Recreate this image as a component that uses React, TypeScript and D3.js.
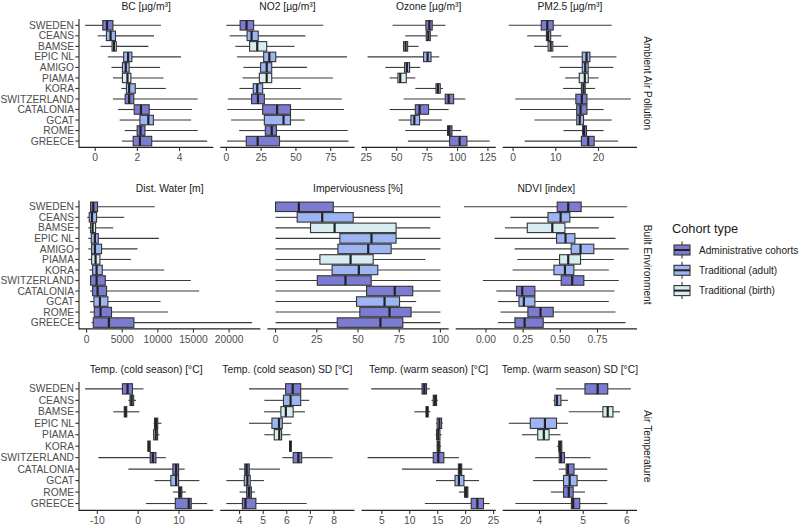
import React from "react";
import * as d3 from "d3";

const cohortsA = ["SWEDEN","CEANS","BAMSE","EPIC NL","AMIGO","PIAMA","KORA","SWITZERLAND","CATALONIA","GCAT","ROME","GREECE"];
const cohortsB = ["SWEDEN","CEANS","BAMSE","EPIC NL","PIAMA","KORA","SWITZERLAND","CATALONIA","GCAT","ROME","GREECE"];
const adminCohorts = ["SWEDEN","SWITZERLAND","CATALONIA","ROME","GREECE"];
const adultCohorts = ["CEANS","EPIC NL","AMIGO","KORA","GCAT"];
const birthCohorts = ["BAMSE","PIAMA"];
const typeLabels = ["Administrative cohorts","Traditional (adult)","Traditional (birth)"];
const typeColors = ["#7b7bd2","#9db5f2","#d7edf1"];
const rowLabels = ["Ambient Air Pollution","Built Environment","Air Temperature"];

// [whisker low, Q1, median, Q3, whisker high]
const bc = [[-0.48,0.36,0.56,0.84,3.12],[0.12,0.53,0.73,0.96,2.79],[0.25,0.80,0.89,1.0,2.52],[0.60,1.35,1.56,1.74,4.07],[0.77,1.29,1.45,1.61,3.08],[0.84,1.29,1.53,1.69,3.24],[1.24,1.48,1.61,1.90,3.35],[0.84,1.42,1.61,1.83,4.86],[1.08,1.85,2.17,2.56,4.59],[1.16,2.12,2.52,2.76,4.55],[1.40,1.99,2.15,2.36,4.86],[1.27,1.80,2.12,2.68,5.31]];
const no2 = [[0,9.9,14.5,19.6,69.6],[2.4,14.9,18.1,22.9,56.8],[6.5,16.7,22.2,29,49],[7.7,26.8,30.9,35.5,86.7],[12.3,24.6,29,32.6,58],[11.6,23.7,29,32.6,76.6],[9.4,19.3,22.2,26.1,53.6],[1.2,18.1,22.7,27.3,82.9],[0.7,26.1,36.5,46.1,84.5],[3.4,27.3,41.1,46.1,56.3],[9.2,28,32.6,36,87.2],[0.5,14.3,22.5,38.2,87.7]];
const ozone = [[46.6,74,76.8,79.2,90],[57,74.3,76,77.6,83.6],[55.1,55.7,57.3,59,68],[26.1,72.1,75.4,78.2,85],[40.6,56.5,58.4,60.6,69.4],[44.2,51,52.9,57.9,65.3],[65.3,82.3,83.9,85.8,88],[55.7,89.9,92.7,96.8,106.4],[44.2,65.3,68.8,76.2,92.7],[51.6,61.7,64.5,68.8,87.2],[57,91.8,93.2,95.4,103.1],[59.2,93.5,101.7,107.7,126.4]];
const pm25 = [[-1.0,6.6,8.0,9.4,23.1],[3.3,7.8,8.2,8.8,11.3],[4.9,8.2,8.8,9.3,12.9],[8.9,16.2,17.2,18.0,24.2],[10.9,16.2,16.9,17.6,23.5],[12.2,15.5,16.8,17.6,20.0],[11.7,16.0,16.5,16.9,19.2],[0.5,14.7,16.1,17.3,27.6],[1.6,14.9,15.8,17.3,21.2],[5.0,14.9,15.6,16.5,23.1],[11.8,16.3,16.6,17.2,21.2],[2.7,16.0,17.6,19.0,24.6]];
const distWater = [[470,560,935,1540,9580],[90,370,750,1400,5280],[230,560,840,1260,3740],[230,650,1170,1640,10150],[230,700,1170,2100,7150],[230,700,1260,1870,6220],[370,840,1400,2200,10900],[470,560,1400,2620,14630],[470,840,1540,2800,15800],[470,1030,1870,2990,10380],[470,1080,1960,3500,11450],[700,935,3130,6640,23230]];
const imperv = [[0,0,14.1,35,100],[0,13.1,28.3,47.1,100],[0,21.2,35.8,73.1,93.9],[0,39,58.2,73.1,100],[0,37.8,56.2,70.1,100],[0,26.9,45.5,59.2,90.9],[0,34.3,50.5,62,100],[0,25.3,42.4,58,100],[0,55.2,72.3,83.2,100],[0,49.1,66.1,75.2,85.3],[0,51.1,69.1,82.2,100],[0,37.4,63.6,77.2,100]];
const ndvi = [[-0.148,0.479,0.553,0.64,0.949],[0.164,0.417,0.502,0.564,0.86],[0.128,0.278,0.446,0.531,0.759],[0.058,0.475,0.535,0.598,0.871],[0.193,0.573,0.636,0.725,0.96],[0.211,0.495,0.553,0.636,0.86],[0.179,0.457,0.531,0.591,0.826],[-0.02,0.506,0.58,0.658,0.893],[0.07,0.206,0.244,0.329,0.864],[0.081,0.222,0.255,0.329,0.826],[0.099,0.282,0.367,0.452,0.871],[0.081,0.195,0.26,0.385,0.938]];
const tempCold = [[-13.0,-3.85,-2.6,-1.4,1.3],[-2.4,-2.0,-1.6,-1.1,-0.5],[-6.1,-3.4,-3.1,-2.8,0.3],[3.8,4.0,4.4,4.8,5.7],[3.6,3.8,4.3,4.75,5.2],[2.3,2.4,2.6,2.95,3.0],[-9.75,2.95,3.6,4.35,6.8],[-2.4,8.5,9.3,9.9,11.4],[4.0,8.0,9.3,9.9,15],[8.5,9.9,10.3,10.7,11.7],[1.9,9.1,12.4,13,16.9]];
const tempColdSd = [[4.4,5.95,6.25,6.59,8.61],[5.05,5.86,6.16,6.59,6.95],[5.04,5.75,5.96,6.27,6.77],[4.4,5.37,5.67,5.81,6.2],[5.05,5.47,5.68,5.78,6.16],[6.1,6.12,6.15,6.19,6.2],[5.81,6.27,6.49,6.63,7.94],[3.98,4.22,4.3,4.41,5.71],[3.44,4.2,4.33,4.45,5.03],[4.0,4.3,4.4,4.5,4.65],[3.44,4.12,4.25,4.69,6.84]];
const tempWarm = [[3.1,12.2,12.6,13.0,13.6],[13.9,14.2,14.5,14.8,15.0],[10.8,12.9,13.1,13.3,13.7],[14.7,14.9,15.3,15.7,15.9],[14.6,14.8,15.1,15.4,15.7],[14.8,14.9,15.15,15.4,15.6],[2.45,14.2,15.1,16.1,18.8],[8.6,18.7,19.0,19.3,21.2],[14.7,18.1,18.8,19.7,22.4],[18.8,19.8,20.1,20.4,20.4],[12.7,21.0,22.1,23.2,24.3]];
const tempWarmSd = [[4.375,5.04,5.33,5.56,6.09],[4.32,4.35,4.4,4.49,4.65],[4.67,5.45,5.56,5.68,5.84],[3.3,3.79,4.125,4.39,4.65],[3.6,3.96,4.1,4.22,4.48],[4.4,4.44,4.47,4.51,4.52],[3.9,4.45,4.49,4.57,5.17],[4.44,4.61,4.65,4.79,5.55],[3.85,4.55,4.69,4.86,5.55],[4.26,4.55,4.67,4.77,5.04],[3.45,4.73,4.77,4.92,5.55]];

const ticksBc = [0, 2, 4];
const ticksNo2 = [0, 25, 50, 75];
const ticksOzone = [25, 50, 75, 100, 125];
const ticksPm = [0, 10, 20];
const ticksWater = [0, 5000, 10000, 15000, 20000];
const ticksImperv = [0, 25, 50, 75, 100];
const ticksNdvi = [0, 0.25, 0.5, 0.75];
const ticksCold = [-10, 0, 10];
const ticksColdSd = [4, 5, 6, 7, 8];
const ticksWarm = [5, 10, 15, 20, 25];
const ticksWarmSd = [4, 5, 6];

const panelRows = [
  { cohorts: cohortsA, panels: [
    { title: "BC [µg/m³]", data: bc, ticks: ticksBc, fmt: "d" },
    { title: "NO2 [µg/m³]", data: no2, ticks: ticksNo2, fmt: "d" },
    { title: "Ozone [µg/m³]", data: ozone, ticks: ticksOzone, fmt: "d" },
    { title: "PM2.5 [µg/m³]", data: pm25, ticks: ticksPm, fmt: "d" },
  ]},
  { cohorts: cohortsA, panels: [
    { title: "Dist. Water [m]", data: distWater, ticks: ticksWater, fmt: "d" },
    { title: "Imperviousness [%]", data: imperv, ticks: ticksImperv, fmt: "d" },
    { title: "NDVI [index]", data: ndvi, ticks: ticksNdvi, fmt: ".2f" },
  ]},
  { cohorts: cohortsB, panels: [
    { title: "Temp. (cold season) [°C]", data: tempCold, ticks: ticksCold, fmt: "d" },
    { title: "Temp. (cold season) SD [°C]", data: tempColdSd, ticks: ticksColdSd, fmt: "d" },
    { title: "Temp. (warm season) [°C]", data: tempWarm, ticks: ticksWarm, fmt: "d" },
    { title: "Temp. (warm season) SD [°C]", data: tempWarmSd, ticks: ticksWarmSd, fmt: "d" },
  ]},
];

const FONT = "'Liberation Sans', Arial, Helvetica, sans-serif";
const PLOT_L = 79, PLOT_R = 637, GAP = 7;
const ROW_TOP0 = 19, PANEL_H = 128.4, ROW_PITCH = 181.5;
const AXIS_TEXT = "#4d4d4d";
const LINE = "#333333";

function typeIndex(name: string) {
  if (adminCohorts.includes(name)) return 0;
  if (adultCohorts.includes(name)) return 1;
  if (birthCohorts.includes(name)) return 2;
  return 2;
}

export default function App() {
  const elems: any[] = [];
  panelRows.forEach((row, ri) => {
    const top = ROW_TOP0 + ri * ROW_PITCH;
    const bottom = top + PANEL_H;
    const n = row.panels.length;
    const pw = (PLOT_R - PLOT_L - GAP * (n - 1)) / n;
    const y = d3.scalePoint<string>().domain(row.cohorts).range([top, bottom]).padding(0.6);
    const step = y.step();
    const bh = step * 0.9;

    elems.push(<line key={`ya${ri}`} x1={PLOT_L} x2={PLOT_L} y1={top} y2={bottom + 0.5} stroke="#222" strokeWidth={1.1} />);
    row.cohorts.forEach((c) => {
      const yy = y(c)!;
      elems.push(<line key={`yt${ri}${c}`} x1={PLOT_L - 3.7} x2={PLOT_L} y1={yy} y2={yy} stroke={LINE} strokeWidth={1.1} />);
      elems.push(<text key={`yl${ri}${c}`} x={PLOT_L - 5} y={yy} dy="0.35em" textAnchor="end" fontSize={10.25} fill={AXIS_TEXT} fontFamily={FONT}>{c}</text>);
    });

    elems.push(<text key={`rs${ri}`} transform={`translate(${648},${(top + bottom) / 2}) rotate(90)`} textAnchor="middle" dy="0.35em" fontSize={10.2} fill="#1a1a1a" fontFamily={FONT}>{rowLabels[ri]}</text>);

    row.panels.forEach((p, pi) => {
      const left = PLOT_L + pi * (pw + GAP);
      const right = left + pw;
      const lo = d3.min(p.data, (d) => d[0])!;
      const hi = d3.max(p.data, (d) => d[4])!;
      const ex = (hi - lo) * 0.05;
      const x = d3.scaleLinear().domain([lo - ex, hi + ex]).range([left, right]);
      const f = p.fmt === "d" ? (v: number) => String(v) : d3.format(p.fmt);

      elems.push(<text key={`st${ri}${pi}`} x={(left + right) / 2} y={top - 9} textAnchor="middle" fontSize={10.3} fill="#1a1a1a" fontFamily={FONT}>{p.title}</text>);

      row.cohorts.forEach((c, ci) => {
        const d = p.data[ci];
        const yy = y(c)!;
        const col = typeColors[typeIndex(c)];
        elems.push(
          <g key={`b${ri}${pi}${ci}`}>
            <line x1={x(d[0])} x2={x(d[1])} y1={yy} y2={yy} stroke="#3a3a3a" strokeWidth={1.1} />
            <line x1={x(d[3])} x2={x(d[4])} y1={yy} y2={yy} stroke="#3a3a3a" strokeWidth={1.1} />
            <rect x={x(d[1])} y={yy - bh / 2} width={Math.max(0, x(d[3]) - x(d[1]))} height={bh} fill={col} stroke={LINE} strokeWidth={1.1} />
            <line x1={x(d[2])} x2={x(d[2])} y1={yy - bh / 2} y2={yy + bh / 2} stroke="#222" strokeWidth={2.2} />
          </g>
        );
      });

      elems.push(<line key={`xa${ri}${pi}`} x1={left} x2={right} y1={bottom} y2={bottom} stroke="#222" strokeWidth={1.1} />);
      p.ticks.forEach((t) => {
        const xx = x(t);
        elems.push(<line key={`xt${ri}${pi}${t}`} x1={xx} x2={xx} y1={bottom} y2={bottom + 3.7} stroke={LINE} strokeWidth={1.1} />);
        elems.push(<text key={`xl${ri}${pi}${t}`} x={xx} y={bottom + 14} textAnchor="middle" fontSize={10.3} fill={AXIS_TEXT} fontFamily={FONT}>{f(t)}</text>);
      });
    });
  });

  const lx = 674, kw = 16, ly0 = 250, lstep = 20.3;
  elems.push(<text key="lt" x={672} y={232.5} fontSize={12.8} fill="#1a1a1a" fontFamily={FONT}>Cohort type</text>);
  typeLabels.forEach((lab, i) => {
    const cy = ly0 + i * lstep;
    elems.push(
      <g key={`lg${i}`}>
        <line x1={lx + kw / 2} x2={lx + kw / 2} y1={cy - 8.5} y2={cy + 8.5} stroke={LINE} strokeWidth={1.1} />
        <rect x={lx} y={cy - 5} width={kw} height={10} fill={typeColors[i]} stroke={LINE} strokeWidth={1.1} />
        <line x1={lx} x2={lx + kw} y1={cy} y2={cy} stroke="#222" strokeWidth={2} />
        <text x={699} y={cy} dy="0.35em" fontSize={10.1} fill="#1a1a1a" fontFamily={FONT}>{lab}</text>
      </g>
    );
  });

  return (
    <svg width={800} height={526} style={{ position: "absolute", left: 0, top: 0, display: "block", background: "#fff" }}>
      <rect x={0} y={0} width={800} height={526} fill="#fff" />
      {elems}
    </svg>
  );
}
